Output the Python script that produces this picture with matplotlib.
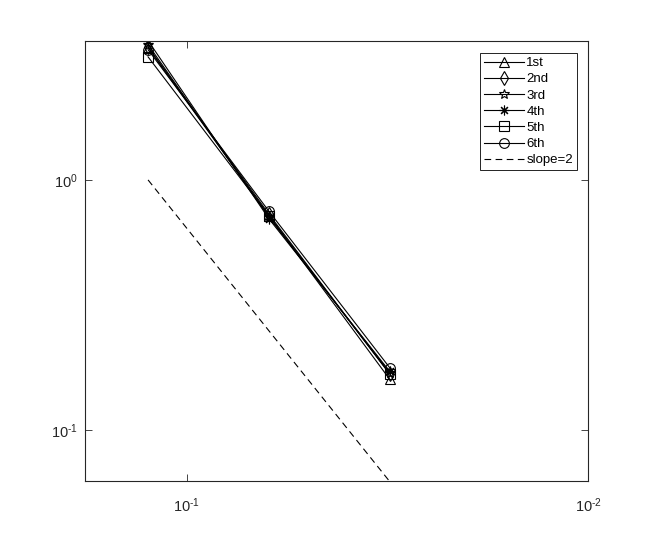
import numpy as np
import matplotlib
matplotlib.use('Agg')
import matplotlib.pyplot as plt
from matplotlib.ticker import LogLocator, NullLocator, FuncFormatter

plt.rcParams['font.family'] = ['Liberation Sans', 'DejaVu Sans']
plt.rcParams['mathtext.fontset'] = 'custom'
plt.rcParams['mathtext.rm'] = 'Liberation Sans'
plt.rcParams['mathtext.default'] = 'regular'

# mesh sizes and errors
h = [0.125, 0.0625, 0.03125]
labels = ['1st', '2nd', '3rd', '4th', '5th', '6th']
err_1st = [3.37, 0.72, 0.160]
err_2nd = [3.40, 0.73, 0.168]
err_3rd = [3.47, 0.71, 0.170]
err_4th = [3.60, 0.70, 0.172]
err_5th = [3.10, 0.72, 0.168]
err_6th = [3.31, 0.75, 0.178]
errors = [err_1st, err_2nd, err_3rd, err_4th, err_5th, err_6th]
markers = ['^', 'd', '*', (8, 2, 0), 's', 'o']

# reference slope line, starts at 1 for the coarsest h
slope_x = np.array([h[0], h[-1]])
slope_y = (slope_x / h[0]) ** 2


def pow10(v, pos):
    # matlab style label with a short hyphen in the exponent
    return r'$10^{\text{%d}}$' % int(round(np.log10(v)))


fig = plt.figure(figsize=(6.5, 5.41), dpi=100)
ax = fig.add_axes([0.13, 0.11, 0.775, 0.815])

for e, m, lab in zip(errors, markers, labels):
    ax.loglog(h, e, color='black', linewidth=0.8, marker=m, markersize=7,
              markerfacecolor='none', markeredgecolor='black',
              markeredgewidth=0.8, label=lab)
ax.loglog(slope_x, slope_y, 'k--', linewidth=0.8, dashes=(6, 4), label='slope=2')

ax.set_xlim(0.18, 0.01)
ax.set_ylim(0.0625, 3.6)

ax.xaxis.set_major_locator(LogLocator(base=10, numticks=10))
ax.yaxis.set_major_locator(LogLocator(base=10, numticks=10))
ax.xaxis.set_minor_locator(NullLocator())
ax.yaxis.set_minor_locator(NullLocator())
ax.xaxis.set_major_formatter(FuncFormatter(pow10))
ax.yaxis.set_major_formatter(FuncFormatter(pow10))
ax.tick_params(direction='in', top=True, right=True, length=5, width=0.6,
               labelsize=10.5, colors='#262626')
ax.tick_params(axis='x', pad=11)
ax.tick_params(axis='y', pad=5)
for s in ax.spines.values():
    s.set_linewidth(0.8)
    s.set_color('#262626')

leg = ax.legend(loc='upper right', bbox_to_anchor=(577 / 650, 1 - 53 / 541),
                bbox_transform=fig.transFigure, borderaxespad=0,
                fancybox=False, framealpha=1, edgecolor='black', fontsize=9.5,
                handlelength=3.0, handletextpad=0.2, labelspacing=0.3,
                borderpad=0.3)
leg.get_frame().set_linewidth(0.6)

fig.savefig('out.png', dpi=100)
